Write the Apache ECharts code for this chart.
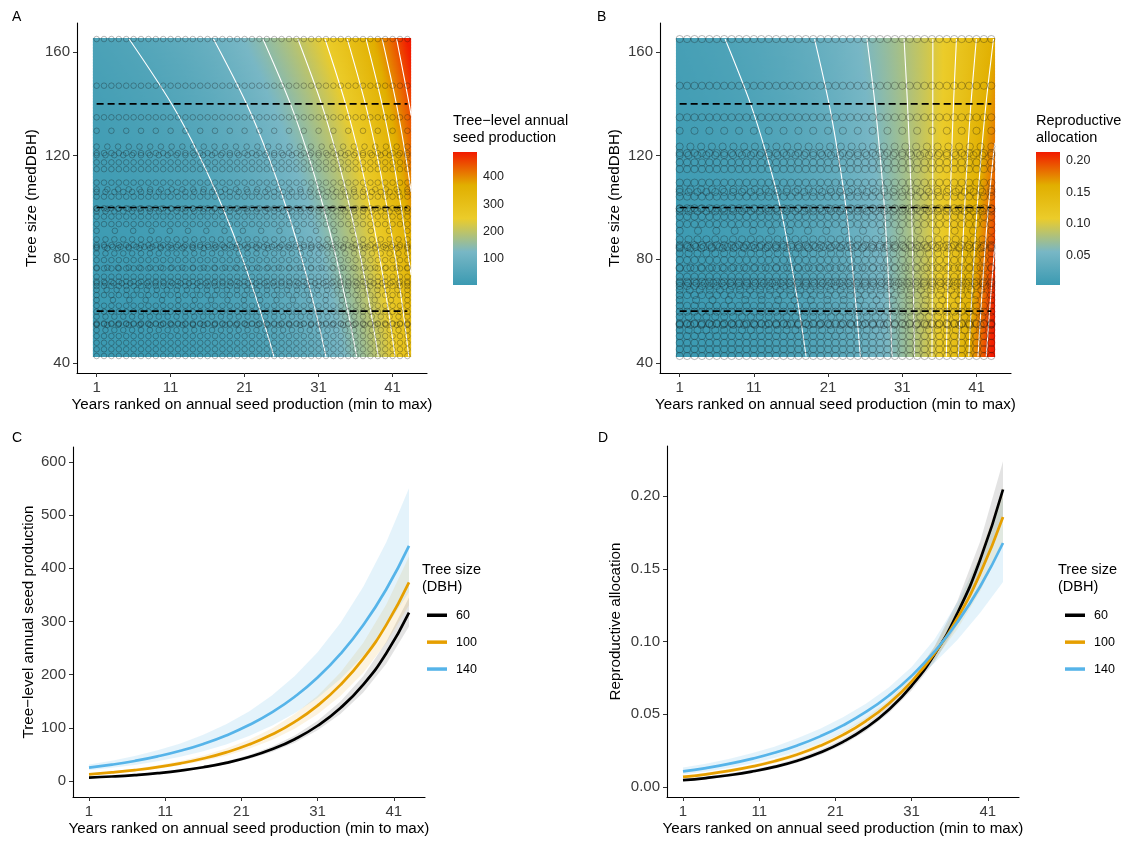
<!DOCTYPE html>
<html><head><meta charset="utf-8">
<script src="https://cdn.jsdelivr.net/npm/echarts@6/dist/echarts.min.js"></script>
<style>html,body{margin:0;padding:0;background:#fff}#c{width:1135px;height:844px}</style>
</head><body><div id="c"></div>
<script>
// ---------------- data ----------------
const ranks = [1,4,7,10,13,16,19,22,25,28,31,34,37,40,43];
const xTicks = [1,11,21,31,41];
const yTicksAB = [40,80,120,160];
const yTicksC = [0,100,200,300,400,500,600];
const yTicksD = [0,0.05,0.10,0.15,0.20];
const cbTicksA = [100,200,300,400];
const cbTicksB = [0.05,0.10,0.15,0.20];
const dbhRows = [42.5, 60, 100, 140, 165];
const sizeLevels = ['60','100','140'];
const dashLevels = [60, 100, 140];

// tree-level annual seed production (model surface, rows by DBH)
const seedD42  = [4.75,6.38,8.57,11.5,15.44,20.74,27.85,37.39,50.21,67.42,90.53,121.6,163.2,219.2,294.4];
const seedD60  = [6.4,8.46,11.18,14.77,19.51,25.78,34.07,45.02,59.49,78.61,103.9,137.3,181.4,239.7,316.7];
const seedD100 = [12.6,16.05,20.45,26.05,33.18,42.27,53.85,68.6,87.39,111.3,141.8,180.7,230.2,293.2,373.5];
const seedD140 = [25,30.7,37.69,46.27,56.81,69.75,85.64,105.2,129.1,158.5,194.6,239.0,293.4,360.2,442.3];
const seedD165 = [38.3,45.96,55.15,66.18,79.42,95.3,114.4,137.2,164.7,197.6,237.1,284.6,341.5,409.8,491.7];
const seedLo60  = [5.9,7.8,10.3,13.6,17.9,23.7,31.3,41.3,54.6,72.1,95.3,126.0,166.4,219.9,290.6];
const seedHi60  = [7.0,9.3,12.2,16.1,21.3,28.1,37.2,49.1,64.9,85.7,113.3,149.7,197.7,261.3,345.2];
const seedLo100 = [11.2,14.2,18.1,23.1,29.4,37.4,47.7,60.7,77.3,98.5,125.5,159.9,203.7,259.5,330.5];
const seedHi100 = [14.2,18.1,23.1,29.4,37.5,47.8,60.9,77.5,98.8,125.8,160.2,204.2,260.1,331.3,422.1];
const seedLo140 = [20.1,24.7,30.3,37.2,45.6,56.0,68.8,84.5,103.7,127.3,156.3,191.9,235.7,289.3,355.3];
const seedHi140 = [31.1,38.2,46.9,57.6,70.7,86.8,106.6,130.9,160.7,197.3,242.3,297.4,365.3,448.5,550.7];

// reproductive allocation
const allocD42  = [0.00397,0.00528,0.00701,0.00932,0.01239,0.01647,0.02189,0.02909,0.03866,0.05138,0.06829,0.09077,0.1206,0.1603,0.2131];
const allocD60  = [0.0047,0.00615,0.00806,0.01055,0.01381,0.01808,0.02368,0.0310,0.04059,0.05314,0.06958,0.0911,0.1193,0.1562,0.2045];
const allocD100 = [0.0069,0.00873,0.01104,0.01397,0.01768,0.02236,0.02829,0.03579,0.04527,0.05728,0.07246,0.09167,0.116,0.1467,0.1856];
const allocD140 = [0.0107,0.01302,0.01585,0.0193,0.02349,0.02859,0.0348,0.04236,0.05156,0.06276,0.07639,0.09298,0.1132,0.1378,0.1677];
const allocD165 = [0.01406,0.01671,0.01985,0.02359,0.02803,0.0333,0.03957,0.04701,0.05586,0.06637,0.07887,0.09371,0.1113,0.1323,0.1572];
const allocLo60  = [0.00398,0.0053,0.00707,0.00942,0.01255,0.01659,0.02193,0.02897,0.03829,0.05061,0.06627,0.08594,0.1115,0.1446,0.1867];
const allocHi60  = [0.00555,0.00713,0.00919,0.01182,0.01519,0.01971,0.02557,0.03317,0.04303,0.0558,0.07306,0.09657,0.1276,0.1687,0.2239];
const allocLo100 = [0.0060,0.00773,0.00986,0.0127,0.01622,0.0207,0.02644,0.03376,0.04311,0.05508,0.06967,0.0873,0.1084,0.1346,0.1672];
const allocHi100 = [0.00794,0.00986,0.01236,0.01537,0.01927,0.02415,0.03027,0.03794,0.04753,0.05957,0.07536,0.09625,0.1241,0.1599,0.206];
const allocLo140 = [0.00856,0.01059,0.0131,0.01608,0.01991,0.02444,0.03026,0.03749,0.04645,0.05758,0.07073,0.0853,0.101,0.1198,0.1409];
const allocHi140 = [0.01338,0.01601,0.01918,0.02316,0.02772,0.03345,0.04002,0.04787,0.05723,0.06841,0.0825,0.1014,0.1268,0.1584,0.1995];

// contour lines [rank, DBH]
const contoursA = [
  [[24.96,42.5],[23.13,60],[20.76,80],[18.03,100],[14.87,120],[11.13,140],[5.39,165]],
  [[32.0,42.5],[30.59,60],[28.75,80],[26.63,100],[24.17,120],[21.26,140],[16.8,165]],
  [[36.14,42.5],[34.96,60],[33.43,80],[31.66,100],[29.62,120],[27.19,140],[23.48,165]],
  [[39.06,42.5],[38.05,60],[36.73,80],[35.22,100],[33.47,120],[31.39,140],[28.2,165]],
  [[41.33,42.5],[40.45,60],[39.3,80],[37.98,100],[36.46,120],[34.64,140],[31.87,165]],
  [[43.19,42.5],[42.42,60],[41.41,80],[40.25,100],[38.91,120],[37.32,140],[34.88,165]],
  [[43.5,74],[43.19,80],[42.16,100],[40.98,120],[39.57,140],[37.42,165]],
  [[43.5,106],[42.76,120],[41.51,140],[39.6,165]],
  [[43.5,135.5],[43.24,140],[41.55,165]]
];
const contoursB = [
  [[18.04,42.5],[17.12,60],[15.93,80],[14.57,100],[12.74,120],[10.55,140],[7.12,165]],
  [[25.35,42.5],[24.83,60],[24.17,80],[23.41,100],[22.37,120],[21.13,140],[19.18,165]],
  [[29.63,42.5],[29.35,60],[29.0,80],[28.59,100],[28.01,120],[27.32,140],[26.24,165]],
  [[32.65,42.5],[32.55,60],[32.41,80],[32.25,100],[32.0,120],[31.7,140],[31.24,165]],
  [[35.0,42.5],[35.03,60],[35.06,80],[35.1,100],[35.1,120],[35.11,140],[35.12,165]],
  [[36.93,42.5],[37.07,60],[37.24,80],[37.43,100],[37.65,120],[37.9,140],[38.3,165]],
  [[38.56,42.5],[38.78,60],[39.07,80],[39.4,100],[39.79,120],[40.25,140],[40.98,165]],
  [[39.96,42.5],[40.26,60],[40.65,80],[41.09,100],[41.63,120],[42.28,140],[43.29,165]],
  [[41.2,42.5],[41.58,60],[42.05,80],[42.6,100],[43.27,120],[43.5,125]],
  [[42.32,42.5],[42.76,60],[43.31,80],[43.5,86]]
];

// observed trees: [medDBH, number of ranked years]
const trees = [
  [165,43],[147,43],[134.8,43],[129.6,22],
  [123.5,30],[121,43],[120.2,36],[117.4,43],[114.8,43],
  [109.6,43],[107,30],[106,36],[104.2,43],
  [99.7,43],[99.5,30],[98.5,36],[96.5,43],[93.6,43],[91,18],[87.7,36],
  [85.5,43],[84.8,40],[84.3,30],[82.3,36],[79.7,43],[76.8,30],[76.5,43],
  [73.3,43],[71.4,43],[70.8,38],[69.7,43],[68.2,32],[66.2,43],[64.3,20],[62.1,43],
  [59.8,43],[57.9,36],[55,43],[55.3,43],[54.7,30],[52.7,36],[50.4,43],[47.8,43],[45.3,43],[42.7,43]
];

// ---------------- rendering ----------------
const FONT = 'Liberation Sans, Arial, Helvetica, sans-serif';
const ZISSOU = ['#3B9AB2','#78B7C5','#EBCC2A','#E1AF00','#F21A00'];
const LINE_COLORS = ['#000000','#E69F00','#56B4E9'];
const RIBBON_COLORS = ['rgba(0,0,0,0.11)','rgba(230,159,0,0.12)','rgba(86,180,233,0.16)'];
const HEAT_TOP = 165.4, HEAT_BOT = 42.3, HEAT_L = 0.5, HEAT_R = 43.5;

const seedRows = [seedD42, seedD60, seedD100, seedD140, seedD165];
const allocRows = [allocD42, allocD60, allocD100, allocD140, allocD165];
const seedLo = Math.min(...seedRows.flat()), seedHi = Math.max(...seedRows.flat());
const allocLo = Math.min(...allocRows.flat()), allocHi = Math.max(...allocRows.flat());

function colorOf(v, lo, hi) {
  const t = Math.max(0, Math.min(1, (v - lo) / (hi - lo)));
  return echarts.color.lerp(t, ZISSOU);
}
function logMix(a, b, t) { return Math.exp((1 - t) * Math.log(a) + t * Math.log(b)); }

function heatSeries(gi, rows, lo, hi) {
  return {
    type: 'custom', xAxisIndex: gi, yAxisIndex: gi, silent: true, z: 1, animation: false,
    data: [[0]],
    renderItem: function (p, api) {
      const children = [];
      const pTL = api.coord([HEAT_L, HEAT_TOP]), pBR = api.coord([HEAT_R, HEAT_BOT]);
      const step = 1.5;
      for (let y = pTL[1]; y < pBR[1]; y += step) {
        const d = HEAT_TOP - ((y + step / 2 - pTL[1]) / (pBR[1] - pTL[1])) * (HEAT_TOP - HEAT_BOT);
        let j = 0; while (j < dbhRows.length - 2 && d > dbhRows[j + 1]) j++;
        let t = (d - dbhRows[j]) / (dbhRows[j + 1] - dbhRows[j]); t = Math.max(0, Math.min(1, t));
        const kv = ranks.map((r, i) => logMix(rows[j][i], rows[j + 1][i], t));
        const stops = [];
        const N = 86;
        for (let k = 0; k <= N; k++) {
          const r = HEAT_L + k * (HEAT_R - HEAT_L) / N;
          let m = 0; while (m < ranks.length - 2 && r > ranks[m + 1]) m++;
          const u = (r - ranks[m]) / (ranks[m + 1] - ranks[m]);
          stops.push({ offset: k / N, color: colorOf(logMix(kv[m], kv[m + 1], u), lo, hi) });
        }
        children.push({
          type: 'rect',
          shape: { x: pTL[0], y: y, width: pBR[0] - pTL[0], height: Math.min(step + 0.7, pBR[1] - y) },
          style: { fill: { type: 'linear', x: 0, y: 0, x2: 1, y2: 0, colorStops: stops } }
        });
      }
      return { type: 'group', children: children };
    }
  };
}

function contourSeries(gi, list) {
  return list.map(c => ({
    type: 'line', xAxisIndex: gi, yAxisIndex: gi, data: c, smooth: 0.35, symbol: 'none',
    silent: true, z: 2, lineStyle: { color: '#ffffff', width: 1.1 }, animation: false
  }));
}

function treePoints() {
  const pts = [];
  trees.forEach(([d, n]) => { for (let i = 0; i < n; i++) pts.push([1 + i * 42 / (n - 1), d]); });
  return pts;
}
const treePts = treePoints();

function circleSeries(gi, size) {
  return {
    type: 'scatter', xAxisIndex: gi, yAxisIndex: gi, data: treePts, symbol: 'circle', symbolSize: size,
    silent: true, z: 3, progressive: 0, animation: false,
    itemStyle: { color: 'rgba(0,0,0,0)', borderColor: 'rgba(20,20,20,0.42)', borderWidth: 0.9 }
  };
}
function dashSeries(gi) {
  return dashLevels.map(lv => ({
    type: 'line', xAxisIndex: gi, yAxisIndex: gi, data: [[1, lv], [43, lv]], symbol: 'none', silent: true, z: 4,
    lineStyle: { color: '#000', width: 1.7, type: [7, 4] }, animation: false
  }));
}
function ribbonSeries(gi, lo, hi, color) {
  return {
    type: 'custom', xAxisIndex: gi, yAxisIndex: gi, silent: true, z: 1, data: [[0]], animation: false,
    renderItem: function (p, api) {
      const pts = [];
      for (let i = 0; i < ranks.length; i++) pts.push(api.coord([ranks[i], hi[i]]));
      for (let i = ranks.length - 1; i >= 0; i--) pts.push(api.coord([ranks[i], lo[i]]));
      return { type: 'polygon', shape: { points: pts }, style: { fill: color } };
    }
  };
}
function curveSeries(gi, vals, name, color) {
  return {
    type: 'line', name: name, xAxisIndex: gi, yAxisIndex: gi, data: ranks.map((r, i) => [r, vals[i]]),
    smooth: 0.5, symbol: 'none', showSymbol: false, z: 3, lineStyle: { color: color, width: 2.7 },
    itemStyle: { color: color }, animation: false
  };
}
function colorbarSeries(gi, lo, hi) {
  return {
    type: 'custom', xAxisIndex: gi, yAxisIndex: gi, silent: true, data: [[0]], z: 1, animation: false,
    renderItem: function (p, api) {
      const a = api.coord([0, hi]), b = api.coord([1, lo]);
      return {
        type: 'rect', shape: { x: a[0], y: a[1], width: b[0] - a[0], height: b[1] - a[1] },
        style: { fill: { type: 'linear', x: 0, y: 1, x2: 0, y2: 0,
          colorStops: ZISSOU.map((c, i) => ({ offset: i / (ZISSOU.length - 1), color: c })) } }
      };
    }
  };
}

const axisBase = (ticks, fmt) => ({
  type: 'value', splitLine: { show: false },
  axisLine: { show: true, onZero: false, lineStyle: { color: '#000', width: 1.1 } },
  axisTick: { show: true, length: 4, customValues: ticks, lineStyle: { color: '#333', width: 1 } },
  axisLabel: { customValues: ticks, color: '#3a3a3a', fontSize: 15, fontFamily: FONT, margin: 7,
    formatter: fmt || (v => String(v)) },
  nameLocation: 'middle', nameTextStyle: { color: '#000', fontSize: 15.2, fontFamily: FONT }
});
const XNAME = 'Years ranked on annual seed production (min to max)';
const fmt2 = v => v.toFixed(2);

const cbAxisRight = (gi, lo, hi, ticks, fmt) => ({
  type: 'value', gridIndex: gi, position: 'right', min: lo, max: hi, splitLine: { show: false },
  axisLine: { show: false },
  axisTick: { show: true, inside: true, length: 5, customValues: ticks, lineStyle: { color: '#fff', width: 1 } },
  axisLabel: { customValues: ticks, color: '#222', fontSize: 12.5, fontFamily: FONT, margin: 6, formatter: fmt }
});
const cbAxisLeft = (gi, lo, hi, ticks) => ({
  type: 'value', gridIndex: gi, position: 'left', min: lo, max: hi, splitLine: { show: false },
  axisLine: { show: false }, axisLabel: { show: false },
  axisTick: { show: true, inside: true, length: 5, customValues: ticks, lineStyle: { color: '#fff', width: 1 } }
});

const series = [];
series.push(heatSeries(0, seedRows, seedLo, seedHi));
series.push(...contourSeries(0, contoursA));
series.push(circleSeries(0, 5.6));
series.push(...dashSeries(0));
series.push(heatSeries(1, allocRows, allocLo, allocHi));
series.push(...contourSeries(1, contoursB));
series.push(circleSeries(1, 7.2));
series.push(...dashSeries(1));
const seedLines = [seedD60, seedD100, seedD140];
const seedLos = [seedLo60, seedLo100, seedLo140], seedHis = [seedHi60, seedHi100, seedHi140];
const allocLines = [allocD60, allocD100, allocD140];
const allocLos = [allocLo60, allocLo100, allocLo140], allocHis = [allocHi60, allocHi100, allocHi140];
for (let k = 0; k < 3; k++) series.push(ribbonSeries(2, seedLos[k], seedHis[k], RIBBON_COLORS[k]));
for (let k = 0; k < 3; k++) series.push(curveSeries(2, seedLines[k], sizeLevels[k], LINE_COLORS[k]));
for (let k = 0; k < 3; k++) series.push(ribbonSeries(3, allocLos[k], allocHis[k], RIBBON_COLORS[k]));
for (let k = 0; k < 3; k++) series.push(curveSeries(3, allocLines[k], sizeLevels[k], LINE_COLORS[k]));
series.push(colorbarSeries(4, seedLo, seedHi));
series.push(colorbarSeries(5, allocLo, allocHi));

const txt = (left, top, text, size, extra) => Object.assign({
  type: 'text', left: left, top: top,
  style: { text: text, fill: '#000', font: size + 'px ' + FONT, lineHeight: Math.round(size * 1.2) }
}, extra || {});

const legendBase = (left) => ({
  left: left, top: 603, orient: 'vertical', icon: 'rect', itemWidth: 20, itemHeight: 3.5, itemGap: 12.4,
  data: sizeLevels, selectedMode: false,
  textStyle: { fontSize: 12.5, color: '#000', fontFamily: FONT, lineHeight: 14.5, padding: [0, 0, 0, 4] }
});

const option = {
  animation: false,
  backgroundColor: '#ffffff',
  grid: [
    { left: 77, top: 23, width: 350, height: 350 },
    { left: 660, top: 23, width: 351, height: 350 },
    { left: 73, top: 447, width: 352, height: 350 },
    { left: 667, top: 446, width: 352, height: 351 },
    { left: 453, top: 152, width: 24, height: 133 },
    { left: 1036, top: 152, width: 24, height: 133 }
  ],
  xAxis: [
    Object.assign(axisBase(xTicks), { gridIndex: 0, min: -1.65, max: 45.65, name: XNAME, nameGap: 24 }),
    Object.assign(axisBase(xTicks), { gridIndex: 1, min: -1.65, max: 45.65, name: XNAME, nameGap: 24 }),
    Object.assign(axisBase(xTicks), { gridIndex: 2, min: -1.1, max: 45.1, name: XNAME, nameGap: 24 }),
    Object.assign(axisBase(xTicks), { gridIndex: 3, min: -1.1, max: 45.1, name: XNAME, nameGap: 24 }),
    { type: 'value', gridIndex: 4, min: 0, max: 1, show: false },
    { type: 'value', gridIndex: 5, min: 0, max: 1, show: false }
  ],
  yAxis: [
    Object.assign(axisBase(yTicksAB), { gridIndex: 0, min: 36.14, max: 171.19, name: 'Tree size (medDBH)', nameGap: 38 }),
    Object.assign(axisBase(yTicksAB), { gridIndex: 1, min: 36.14, max: 171.19, name: 'Tree size (medDBH)', nameGap: 38 }),
    Object.assign(axisBase(yTicksC), { gridIndex: 2, min: -30.1, max: 628.2, name: 'Tree\u2212level annual seed production', nameGap: 37 }),
    Object.assign(axisBase(yTicksD, fmt2), { gridIndex: 3, min: -0.00688, max: 0.2344, name: 'Reproductive allocation', nameGap: 44 }),
    cbAxisRight(4, seedLo, seedHi, cbTicksA, v => String(v)),
    cbAxisRight(5, allocLo, allocHi, cbTicksB, fmt2),
    cbAxisLeft(4, seedLo, seedHi, cbTicksA),
    cbAxisLeft(5, allocLo, allocHi, cbTicksB)
  ],
  legend: [legendBase(422), legendBase(1060)],
  graphic: [
    txt(12, 9, 'A', 14), txt(597, 9, 'B', 14), txt(12, 430, 'C', 14), txt(598, 430, 'D', 14),
    txt(453, 112, 'Tree\u2212level annual\nseed production', 14.5),
    txt(1036, 112, 'Reproductive\nallocation', 14.5),
    txt(422, 561, 'Tree size\n(DBH)', 14.5),
    txt(1058, 561, 'Tree size\n(DBH)', 14.5)
  ],
  series: series
};

const chart = echarts.init(document.getElementById('c'), null, { renderer: 'canvas' });
chart.setOption(option);
</script>
</body></html>
